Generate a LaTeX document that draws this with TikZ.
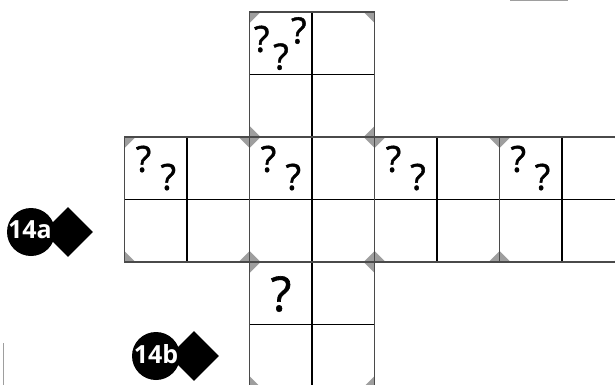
\documentclass[tikz,border=0pt]{standalone}
\usepackage{fontspec}
\setmainfont{Open Sans}
\newfontfamily\qfont{Open Sans}[BoldFont={Open Sans}, BoldFeatures={FakeBold=1.3}]
\usetikzlibrary{shapes.geometric}
\definecolor{cornergray}{HTML}{9E9E9E}
\definecolor{edgegray}{HTML}{4A4A4A}
\tikzset{
  qmark/.style={inner sep=0pt, font=\qfont\bfseries\fontsize{36}{36}\selectfont},
  bigqmark/.style={inner sep=0pt, font=\qfont\bfseries\fontsize{48}{48}\selectfont},
  badgedisc/.style={circle, fill=black, minimum size=48pt, inner sep=0pt},
  badgehead/.style={diamond, fill=black, minimum width=50pt, minimum height=50pt, inner sep=0pt, aspect=1},
  badgebar/.style={fill=black},
  badgetext/.style={inner sep=0pt, text=white, font=\fontsize{25}{25}\selectfont\bfseries},
  innerline/.style={draw=black, line width=1.2pt},
  outerline/.style={draw=edgegray, line width=1.3pt},
}
\newcommand\cornertris[2]{%
  \fill[cornergray] (#1,#2) -- ++(11,0) -- ++(-11,11) -- cycle;
  \fill[cornergray] (#1+125,#2) -- ++(-11,0) -- ++(11,11) -- cycle;
  \fill[cornergray] (#1,#2+125) -- ++(11,0) -- ++(-11,-11) -- cycle;
  \fill[cornergray] (#1+125,#2+125) -- ++(-11,0) -- ++(11,-11) -- cycle;
}
\newcommand\facelines[2]{%
  \draw[innerline] (#1+62.5,#2) -- (#1+62.5,#2+125);
  \draw[innerline] (#1,#2+62.5) -- (#1+125,#2+62.5);
  \draw[outerline] (#1,#2) rectangle (#1+125,#2+125);
}
\begin{document}
\begin{tikzpicture}[x=1pt,y=-1pt]
\useasboundingbox (0,0) rectangle (615,385);
\clip (0,0) rectangle (615,385);
% corner markers
\cornertris{249.5}{12}
\cornertris{124.5}{137}
\cornertris{249.5}{137}
\cornertris{374.5}{137}
\cornertris{499.5}{137}
\cornertris{249.5}{262}
% grid lines
\facelines{249.5}{12}
\facelines{124.5}{137}
\facelines{249.5}{137}
\facelines{374.5}{137}
\facelines{499.5}{137}
\facelines{249.5}{262}
% question marks
\node[qmark] (qt1) at (261.7,39) {?};
\node[qmark] (qt2) at (281,56.7) {?};
\node[qmark] (qt3) at (298.8,30.5) {?};
\node[qmark] (ql1) at (143.5,159) {?};
\node[qmark] (ql2) at (168.3,177) {?};
\node[qmark] (qf1) at (268.5,159) {?};
\node[qmark] (qf2) at (293.3,177) {?};
\node[qmark] (qr1) at (393.5,159) {?};
\node[qmark] (qr2) at (418,177) {?};
\node[qmark] (qb1) at (518.3,159) {?};
\node[qmark] (qb2) at (542.5,177) {?};
\node[bigqmark] (qd) at (281,294) {?};
% badges
\node[badgehead] (h14a) at (68,232) {};
\node[badgedisc] (d14a) at (31,232) {};
\fill[badgebar] (d14a.center) ++(0,-8.5) rectangle (h14a.center |- 0,240.5);
\node[badgetext] (t14a) at (30,229.5) {14a};
\node[badgehead] (h14b) at (194,356) {};
\node[badgedisc] (d14b) at (156,356) {};
\fill[badgebar] (d14b.center) ++(0,-8.5) rectangle (h14b.center |- 0,364.5);
\node[badgetext] (t14b) at (156,354) {14b};
% stray edge fragments
\draw[cornergray, line width=1.2pt] (510,0.6) -- (568,0.6);
\draw[cornergray, line width=1.5pt] (3.5,343) -- (3.5,385);
\end{tikzpicture}
\end{document}
